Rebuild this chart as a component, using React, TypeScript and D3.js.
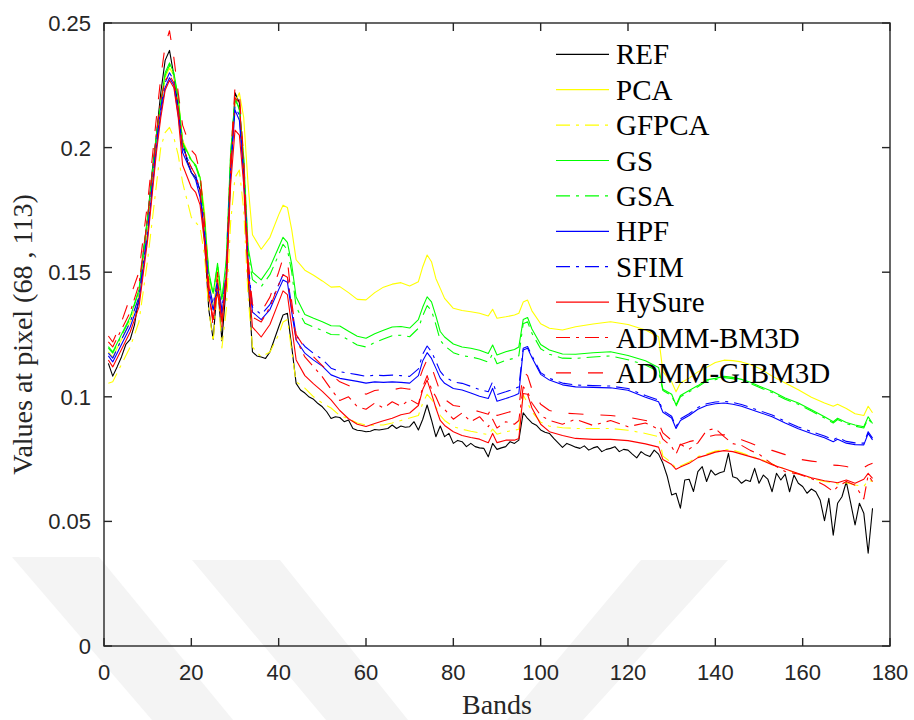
import React from "react";
import * as d3 from "d3";

// Shared band grid for the fused-image spectra
const bands = [1,2,4,6,8,10,12,13,14,15,16,17,18,20,21,22,23,24,25,26,27,28,29,30,31,32,33,34,36,38,40,41,42,43,44,
  46,48,50,52,54,56,58,60,62,64,66,68,70,72,73,74,75,76,77,78,80,82,84,86,88,89,90,92,94,95,96,97,98,
  100,102,105,108,112,116,120,124,127,128,130,131,132,134,136,138,140,142,144,146,148,150,153,156,159,162,165,167,168,170,172,174,175,176];

// Reference spectrum, one value per band 1..176
const REF = [
  .1134,.1083,.1120,.1160,.1210,.1230,.1290,.1400,.1580,.1720,
  .1900,.2050,.2220,.2350,.2390,.2290,.2160,.2030,.1950,.1900,
  .1880,.1830,.1630,.1350,.1231,.1455,.1225,.1450,.1900,.2220,
  .2180,.1900,.1480,.1180,.1164,.1160,.1154,.1180,.1230,.1280,
  .1328,.1335,.1200,.1054,.1027,.1015,.0999,.0990,.0973,.0960,
  .0940,.0913,.0920,.0917,.0900,.0907,.0873,.0866,.0864,.0860,
  .0862,.0869,.0867,.0870,.0873,.0887,.0873,.0883,.0878,.0880,
  .0900,.0867,.0910,.0967,.0907,.0840,.0883,.0840,.0853,.0813,
  .0825,.0820,.0800,.0813,.0800,.0795,.0793,.0759,.0813,.0789,
  .0795,.0800,.0820,.0813,.0826,.0936,.0913,.0895,.0886,.0867,
  .0858,.0853,.0833,.0815,.0797,.0813,.0806,.0798,.0793,.0803,
  .0786,.0795,.0800,.0780,.0789,.0793,.0800,.0780,.0789,.0786,
  .0770,.0755,.0780,.0767,.0760,.0786,.0770,.0733,.0680,.0606,
  .0613,.0553,.0666,.0669,.0620,.0700,.0720,.0660,.0706,.0686,
  .0695,.0700,.0773,.0679,.0673,.0653,.0666,.0660,.0713,.0653,
  .0686,.0670,.0619,.0693,.0666,.0690,.0619,.0686,.0653,.0640,
  .0613,.0630,.0619,.0586,.0503,.0593,.0445,.0573,.0599,.0659,
  .0573,.0486,.0573,.0533,.0372,.0553];

const PCA = [.118,.116,.123,.130,.140,.168,.203,.217,.228,.232,.229,.220,.203,.195,.193,.188,.175,.148,.135,.151,.132,.150,.190,.218,.222,.212,.185,.165,.1592,.164,.173,.1769,.176,.167,.155,
  .1508,.1488,.1465,.1440,.1442,.1418,.1391,.1389,.1418,.1440,.1452,.1458,.1445,.1462,
  .1522,.1569,.1542,.1475,.1435,.1395,
  .1355,.1346,.1341,.1335,.1324,
  .1351,.1315,.1321,.1328,.1335,.1380,.1388,.1345,
  .1293,.1275,.1268,.1281,.1292,.1301,.1290,.1268,.1241,.1100,
  .1060,.1020,.1055,.1075,.1100,.1118,.1138,.1147,.1145,.1140,.1130,.1115,
  .1083,.1055,.1028,.0998,.0975,.0962,.0970,.0953,.0932,.0925,.0962,.0936];

const GFPCA = [.1054,.106,.113,.120,.130,.155,.185,.200,.206,.2081,.204,.197,.186,.172,.170,.168,.157,.135,.122,.145,.1196,.135,.170,.188,.191,.175,.140,.120,.116,.118,.125,.130,.131,.118,.106,
  .1035,.1000,.0975,.0955,.0925,.0912,.0895,.0887,.0886,.0887,.0895,.0905,.0915,.0925,
  .0975,.1010,.0990,.0960,.0925,.0905,
  .0880,.0870,.0862,.0855,.0848,
  .0870,.0850,.0860,.0866,.0870,.1007,.0975,.0940,
  .0898,.0882,.0876,.0873,.0873,.0873,.0866,.0853,.0840,.0762,
  .0735,.0713,.0722,.0738,.0760,.0770,.0782,.0789,.0786,.0775,.0763,.0752,
  .0730,.0710,.0690,.0672,.0660,.0656,.0650,.0655,.0646,.0640,.0665,.0660];

const GS = [.1201,.118,.125,.132,.143,.172,.205,.218,.230,.234,.230,.220,.202,.195,.193,.188,.172,.150,.1415,.1536,.139,.155,.198,.219,.216,.196,.160,.150,.1469,.152,.160,.164,.162,.153,.140,
  .1330,.1315,.1301,.1285,.1284,.1263,.1243,.1235,.1253,.1267,.1280,.1282,.1276,.1310,
  .1360,.1401,.1381,.1325,.1262,.1240,
  .1212,.1200,.1195,.1187,.1174,
  .1208,.1168,.1181,.1190,.1200,.1310,.1318,.1272,
  .1210,.1188,.1172,.1171,.1177,.1181,.1166,.1145,.1118,.1030,
  .1010,.0967,.1005,.1025,.1045,.1068,.1074,.1082,.1078,.1070,.1058,.1043,
  .1022,.0995,.0975,.0948,.0920,.0900,.0914,.0897,.0887,.0880,.0920,.0893];

const GSA = [.1195,.1175,.1245,.1315,.1425,.171,.204,.217,.229,.233,.229,.219,.2015,.1945,.1925,.187,.171,.149,.141,.153,.1385,.154,.197,.2205,.215,.195,.158,.147,.1442,.149,.157,.1612,.159,.150,.136,
  .1295,.1280,.1266,.1250,.1249,.1228,.1208,.1200,.1218,.1232,.1245,.1247,.1241,.1275,
  .1325,.1366,.1346,.1290,.1227,.1205,
  .1177,.1165,.1160,.1152,.1139,
  .1173,.1133,.1146,.1155,.1165,.1293,.1301,.1255,
  .1193,.1171,.1155,.1154,.1160,.1164,.1149,.1128,.1101,.1025,
  .1005,.0962,.1000,.1020,.1040,.1063,.1069,.1077,.1073,.1065,.1053,.1038,
  .1017,.0990,.0970,.0943,.0915,.0895,.0909,.0892,.0882,.0875,.0913,.0888];

const HPF = [.1164,.114,.121,.128,.138,.165,.200,.214,.224,.228,.225,.213,.198,.190,.187,.180,.165,.143,.1348,.1449,.133,.148,.190,.2151,.211,.188,.152,.134,.131,.135,.143,.1469,.146,.134,.1228,
  .1175,.1147,.1123,.1088,.1074,.1068,.1062,.1055,.1060,.1058,.1060,.1058,.1055,.1085,
  .1145,.1177,.1154,.1115,.1075,.1054,
  .1033,.1027,.1015,.1002,.0993,
  .1034,.0982,.0993,.1005,.1013,.1188,.1195,.1158,
  .1090,.1067,.1048,.1040,.1038,.1036,.1026,.0998,.0980,.0938,
  .0915,.0873,.0905,.0925,.0950,.0965,.0972,.0975,.0970,.0962,.0950,.0938,
  .0920,.0895,.0872,.0853,.0836,.0820,.0830,.0814,.0808,.0807,.0853,.0827];

const SFIM = [.1175,.1155,.123,.130,.140,.167,.202,.216,.226,.230,.227,.215,.200,.192,.189,.182,.167,.145,.137,.147,.135,.150,.192,.2165,.213,.190,.154,.136,.133,.137,.145,.149,.148,.136,.1245,
  .1202,.1174,.1150,.1115,.1101,.1095,.1089,.1082,.1087,.1085,.1087,.1085,.1082,.1112,
  .1172,.1204,.1181,.1142,.1102,.1081,
  .1060,.1054,.1042,.1029,.1020,
  .1061,.1009,.1020,.1032,.1040,.1195,.1202,.1165,
  .1097,.1074,.1055,.1047,.1045,.1043,.1033,.1005,.0987,.0945,
  .0922,.0880,.0912,.0932,.0957,.0972,.0979,.0982,.0977,.0969,.0957,.0945,
  .0927,.0902,.0879,.0860,.0843,.0827,.0837,.0821,.0815,.0814,.0860,.0834];

const HySure = [.1148,.112,.119,.126,.136,.163,.198,.212,.223,.227,.224,.212,.193,.184,.182,.177,.162,.140,.1315,.142,.130,.145,.185,.207,.205,.185,.148,.128,.124,.129,.138,.1425,.141,.128,.1148,
  .1085,.1052,.1022,.0988,.0945,.0912,.0890,.0881,.0893,.0904,.0914,.0928,.0935,.0965,
  .1030,.1067,.1013,.0955,.0905,.0885,
  .0860,.0845,.0837,.0830,.0816,
  .0853,.0816,.0826,.0826,.0833,.1013,.1010,.0955,
  .0890,.0860,.0845,.0833,.0829,.0829,.0824,.0811,.0798,.0748,
  .0728,.0709,.0718,.0733,.0756,.0766,.0778,.0784,.0780,.0770,.0760,.0750,
  .0727,.0710,.0692,.0675,.0663,.0658,.0655,.0666,.0653,.0669,.0693,.0673];

const BM3D = [.122,.120,.127,.134,.145,.172,.205,.219,.227,.229,.226,.216,.200,.192,.189,.183,.165,.142,.130,.147,.130,.148,.190,.220,.218,.192,.152,.132,.130,.136,.145,.149,.148,.135,.123,
  .1160,.1120,.1080,.1030,.0985,.1000,.0960,.0950,.0975,.0955,.0980,.0962,.0990,.0970,
  .1040,.1085,.1030,.1000,.0960,.0950,
  .0910,.0935,.0900,.0920,.0880,
  .0910,.0875,.0900,.0890,.0905,.1040,.1020,.0975,
  .0925,.0905,.0890,.0910,.0885,.0905,.0880,.0895,.0870,.0830,
  .0800,.0770,.0810,.0790,.0815,.0865,.0873,.0840,.0812,.0805,.0785,.0770,
  .0730,.0700,.0690,.0672,.0645,.0620,.0640,.0660,.0645,.0590,.0686,.0660];

const GIBM3D = [.1244,.122,.130,.140,.150,.178,.212,.228,.241,.2469,.236,.222,.209,.199,.197,.190,.170,.145,.128,.150,.128,.150,.195,.2245,.222,.195,.155,.137,.134,.140,.150,.1556,.155,.138,.125,
  .1195,.1160,.1125,.1090,.1060,.1045,.1030,.1010,.1025,.1030,.1028,.1035,.1030,.1060,
  .1110,.1150,.1120,.1070,.1020,.0990,
  .0965,.0960,.0950,.0940,.0930,
  .0965,.0925,.0935,.0945,.0955,.1100,.1085,.1030,
  .0970,.0945,.0935,.0932,.0928,.0925,.0918,.0905,.0895,.0855,
  .0825,.0790,.0808,.0820,.0828,.0838,.0847,.0848,.0840,.0828,.0815,.0800,
  .0785,.0768,.0750,.0742,.0735,.0726,.0725,.0720,.0712,.0716,.0726,.0733];

const legendNames = ["REF","PCA","GFPCA","GS","GSA","HPF","SFIM","HySure","ADMM-BM3D","ADMM-GIBM3D"];
const xTicks = [0,20,40,60,80,100,120,140,160,180];
const yTicks = [0,0.05,0.1,0.15,0.2,0.25];
const yTickLabels = ["0","0.05","0.1","0.15","0.2","0.25"];

const DASHDOT = "14 6 3 6";
const DASHED = "15 17";

export default function App() {
  const W = 914, H = 720;
  const left = 104, right = 890, top = 23, bottom = 646;
  const x = d3.scaleLinear().domain([0, 180]).range([left, right]);
  const y = d3.scaleLinear().domain([0, 0.25]).range([bottom, top]);
  const axisColor = "#262626";

  const refBands = REF.map((_, i) => i + 1);
  const series = [
    { name: "REF", color: "#000000", dash: undefined, xs: refBands, vs: REF },
    { name: "PCA", color: "#ffff00", dash: undefined, xs: bands, vs: PCA },
    { name: "GFPCA", color: "#ffff00", dash: DASHDOT, xs: bands, vs: GFPCA },
    { name: "GS", color: "#00ff00", dash: undefined, xs: bands, vs: GS },
    { name: "GSA", color: "#00ff00", dash: DASHDOT, xs: bands, vs: GSA },
    { name: "HPF", color: "#0000ff", dash: undefined, xs: bands, vs: HPF },
    { name: "SFIM", color: "#0000ff", dash: DASHDOT, xs: bands, vs: SFIM },
    { name: "HySure", color: "#ff0000", dash: undefined, xs: bands, vs: HySure },
    { name: "ADMM-BM3D", color: "#ff0000", dash: DASHDOT, xs: bands, vs: BM3D },
    { name: "ADMM-GIBM3D", color: "#ff0000", dash: DASHED, xs: bands, vs: GIBM3D },
  ];

  const line = d3.line<[number, number]>().x(d => x(d[0])).y(d => y(d[1]));

  const legX0 = 556, legX1 = 609, legTextX = 616, legY0 = 54.3, legDy = 35.4;

  // faint background watermark stripes (page decoration)
  const marks = [
    "M12,557 L99,557 L233,720 L152,720 Z",
    "M192,560 L280,560 L408,720 L326,720 Z",
    "M641,560 L728,560 L583,720 L507,720 Z",
  ];

  return (
    <svg width={W} height={H} style={{ position: "absolute", left: 0, top: 0, display: "block", background: "#fff" }}>
      <rect x={0} y={0} width={W} height={H} fill="#ffffff" />
      {marks.map((m, i) => <path key={"wm" + i} d={m} fill="#f4f4f4" />)}
      {series.map(s => (
        <path key={s.name}
          d={line(s.xs.map((b, i) => [b, s.vs[i]] as [number, number])) || ""}
          fill="none" stroke={s.color} strokeWidth={1.1}
          strokeDasharray={s.dash} strokeLinejoin="round" />
      ))}
      {/* axes box */}
      <rect x={left} y={top} width={right - left} height={bottom - top} fill="none" stroke={axisColor} strokeWidth={1.4} />
      {xTicks.map(t => (
        <g key={"xt" + t}>
          <line x1={x(t)} x2={x(t)} y1={bottom} y2={bottom - 8} stroke={axisColor} strokeWidth={1.4} />
          <line x1={x(t)} x2={x(t)} y1={top} y2={top + 8} stroke={axisColor} strokeWidth={1.4} />
          <text x={x(t)} y={680} textAnchor="middle" fontFamily="'Liberation Sans', Arial, sans-serif" fontSize={22} fill={axisColor}>{t}</text>
        </g>
      ))}
      {yTicks.map((t, i) => (
        <g key={"yt" + t}>
          <line x1={left} x2={left + 8} y1={y(t)} y2={y(t)} stroke={axisColor} strokeWidth={1.4} />
          <line x1={right} x2={right - 8} y1={y(t)} y2={y(t)} stroke={axisColor} strokeWidth={1.4} />
          <text x={91} y={y(t) + 8} textAnchor="end" fontFamily="'Liberation Sans', Arial, sans-serif" fontSize={22} fill={axisColor}>{yTickLabels[i]}</text>
        </g>
      ))}
      <text x={(left + right) / 2} y={714} textAnchor="middle" fontFamily="'Liberation Serif', 'Times New Roman', serif" fontSize={28} fill={axisColor}>Bands</text>
      <text transform={`translate(32, ${(top + bottom) / 2}) rotate(-90)`} textAnchor="middle" fontFamily="'Liberation Serif', 'Times New Roman', serif" fontSize={28} fill={axisColor}>Values at pixel (68 , 113)</text>
      {/* legend */}
      {series.map((s, i) => {
        const ly = legY0 + i * legDy;
        return (
          <g key={"lg" + s.name}>
            <line x1={legX0} x2={legX1} y1={ly} y2={ly} stroke={s.color} strokeWidth={1.2} strokeDasharray={s.dash} />
            <text x={legTextX} y={ly + 10} fontFamily="'Liberation Serif', 'Times New Roman', serif" fontSize={29} fill="#000">{legendNames[i]}</text>
          </g>
        );
      })}
    </svg>
  );
}
